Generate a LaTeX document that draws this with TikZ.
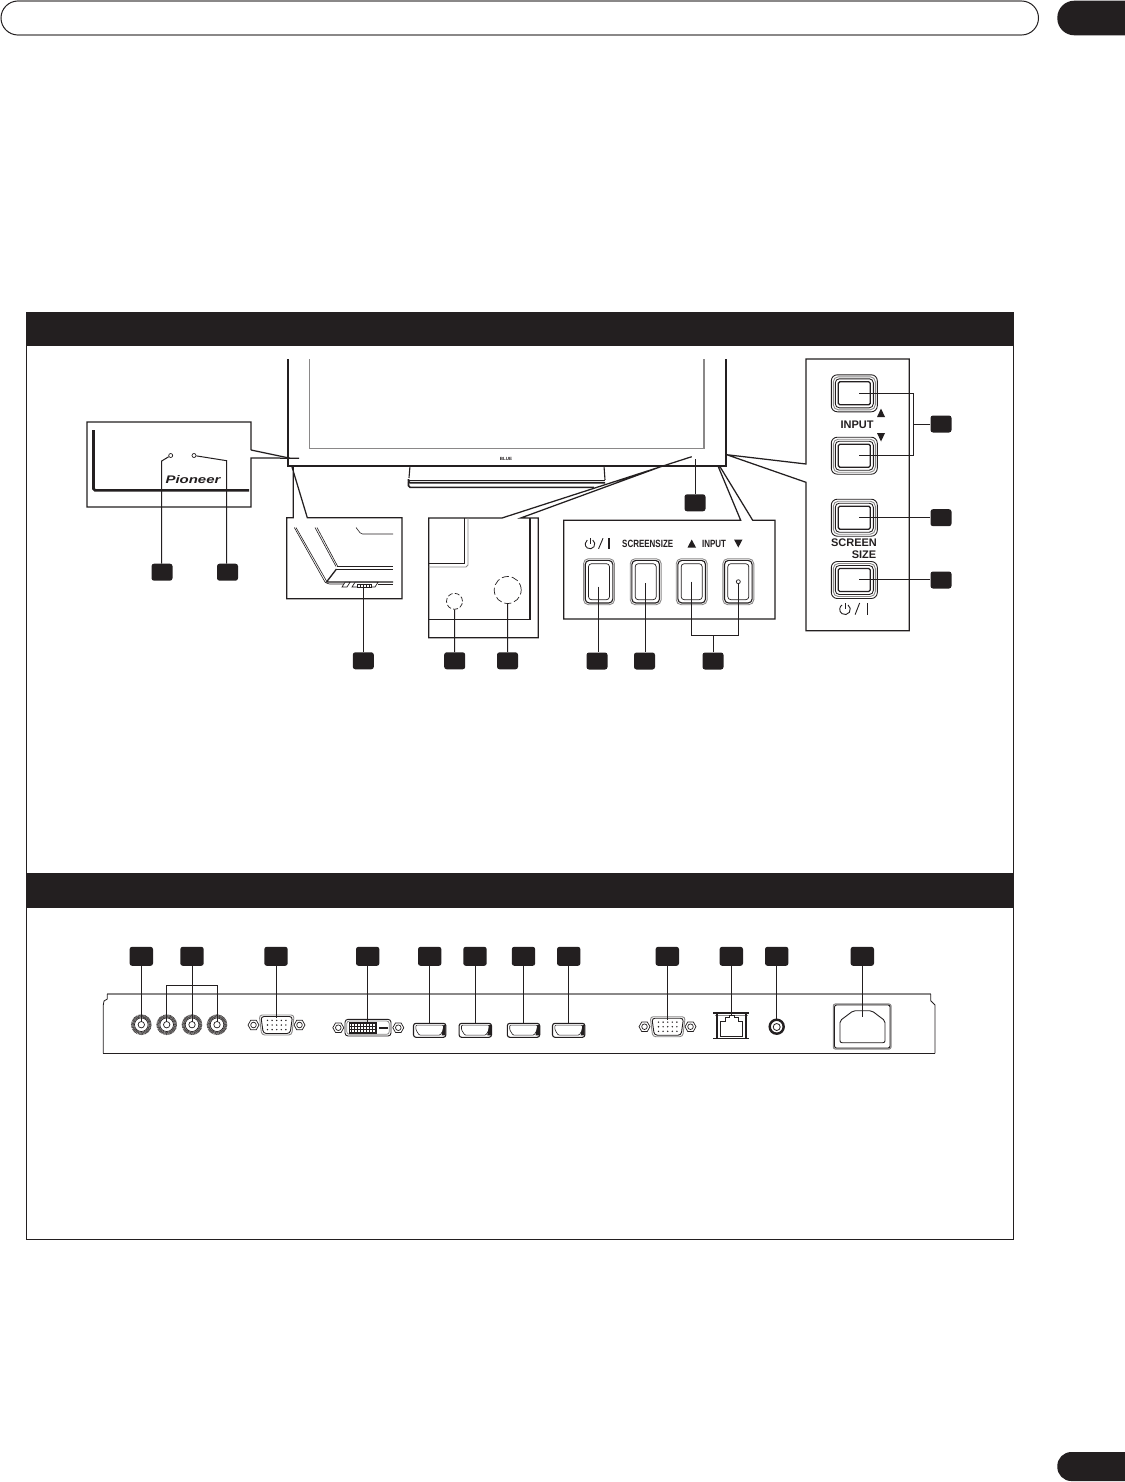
\documentclass[tikz,border=0pt]{standalone}
\usepackage{fontspec}
\setmainfont{Liberation Sans}
\definecolor{ink}{HTML}{231F20}
\definecolor{soft}{HTML}{8A8888}
\tikzset{x=1pt,y=-1pt,
 badge/.style={fill=ink,draw=none,rounded corners=2.5pt,minimum width=21pt,minimum height=17pt,inner sep=0pt},
 badgewide/.style={fill=ink,draw=none,rounded corners=2.5pt,minimum width=23.4pt,minimum height=19pt,inner sep=0pt},
 lead/.style={draw=ink,line width=1pt},
 thin/.style={draw=ink,line width=0.7pt},
 panel/.style={draw=ink,line width=1.25pt},
 heavy/.style={draw=ink,line width=2pt},
 lab/.style={inner sep=0pt,text=ink,font=\bfseries},
}
\newcommand{\powicon}[4]{% x y radius bar-offset
 \draw[ink,line width=.9pt] (#1+#3*0.574,#2-#3*0.819) arc[start angle=55,end angle=-235,radius=#3pt];
 \draw[ink,line width=.9pt] (#1,#2-#3-1) -- (#1,#2);
 \draw[ink,line width=.9pt] (#1+#4*.45,#2+#3) -- (#1+#4*.45+4.5,#2-#3-1);
 \draw[ink,line width=1.2pt] (#1+#4,#2-#3-1) -- (#1+#4,#2+#3);
}
\newcommand{\hbutton}[2]{% tall button in the bottom inset
 \draw[soft,line width=.9pt,rounded corners=5pt] (#1-15.5,#2-23) rectangle (#1+15.5,#2+23);
 \draw[ink,line width=1.1pt,rounded corners=4pt] (#1-13.8,#2-21.3) rectangle (#1+13.8,#2+21.3);
 \draw[ink,line width=.7pt,rounded corners=3pt] (#1-10.5,#2-18) rectangle (#1+10.5,#2+18);
}
\newcommand{\vbutton}[2]{% wide button in the side inset
 \draw[ink,line width=.9pt,rounded corners=6pt] (#1-23,#2-18.5) rectangle (#1+23,#2+18.5);
 \draw[soft,line width=.9pt,rounded corners=5pt] (#1-21,#2-16.5) rectangle (#1+21,#2+16.5);
 \draw[ink,line width=.9pt,rounded corners=4pt] (#1-19,#2-14.5) rectangle (#1+19,#2+14.5);
 \draw[ink,line width=1.3pt,rounded corners=1.5pt] (#1-16,#2-11.5) rectangle (#1+16,#2+11.5);
}
\newcommand{\hexnut}[2]{%
 \draw[ink,line width=.7pt] (#1+5.5,#2) -- (#1+2.75,#2+4.8) -- (#1-2.75,#2+4.8) -- (#1-5.5,#2) -- (#1-2.75,#2-4.8) -- (#1+2.75,#2-4.8) -- cycle;
 \draw[ink,line width=.7pt] (#1,#2) circle[radius=2.8];
}
\newcommand{\vga}[2]{%
 \hexnut{#1-23.2}{#2}\hexnut{#1+22.8}{#2}
 \draw[soft,line width=.9pt,rounded corners=3pt] (#1-17.5,#2-10) -- (#1+17.5,#2-10) -- (#1+15,#2+10) -- (#1-15,#2+10) -- cycle;
 \draw[ink,line width=.9pt,rounded corners=3pt] (#1-15.8,#2-8.5) -- (#1+15.8,#2-8.5) -- (#1+13.4,#2+8.5) -- (#1-13.4,#2+8.5) -- cycle;
 \foreach \i in {-2,-1,0,1,2}{
  \fill[ink] (#1+\i*4.6,#2-4.6) circle[radius=.8];
  \fill[ink] (#1+\i*4.6,#2) circle[radius=.8];
  \fill[ink] (#1+\i*4.6,#2+4.6) circle[radius=.8];
 }
}
\newcommand{\hdmi}[2]{%
 \draw[ink,line width=1.1pt,rounded corners=2.5pt] (#1-16.2,#2-7) -- (#1+16.2,#2-7) -- (#1+16.2,#2+7) -- (#1-16.2,#2+7) -- cycle;
 \draw[ink,line width=.6pt,rounded corners=1pt] (#1-13.8,#2-5.2) -- (#1+13.8,#2-5.2) -- (#1+13.8,#2-.5) -- (#1+10.5,#2+4.8) -- (#1-10.5,#2+4.8) -- (#1-13.8,#2-.5) -- cycle;
 \fill[ink] (#1+13.8,#2-5.5) -- (#1+16,#2-5.5) -- (#1+16,#2+5) -- (#1+12,#2+5) -- cycle;
}
\newcommand{\bnc}[2]{%
 \draw[ink!80,line width=3pt,dash pattern=on .9pt off .45pt] (#1,#2) circle[radius=8.8];
 \draw[ink,line width=.7pt] (#1,#2) circle[radius=6.8];
 \draw[ink,line width=.7pt] (#1,#2) circle[radius=3.2];
}
\begin{document}
\begin{tikzpicture}
\useasboundingbox (0,0) rectangle (1124,1482);
\fill[white] (0,0) rectangle (1124,1482);
% page furniture
\draw[ink,line width=1pt,rounded corners=17pt] (1,1) rectangle (1038.5,35);
\draw[soft,line width=1.3pt] (17,1) -- (1022,1) (17,35) -- (1022,35);
\fill[ink,rounded corners=17pt] (1057.3,.7) rectangle (1160,35.3);
\fill[ink,rounded corners=14pt] (1057.3,1452) rectangle (1160,1481);
% frame + header bars
\draw[ink,line width=1pt] (26.3,312) -- (26.3,1239) -- (1013.6,1239) -- (1013.6,312);
\fill[ink] (26,312) rectangle (1014,346);
\fill[ink] (26,873) rectangle (1014,907.5);

%---------- TV
\draw[ink,line width=2pt] (288,359) -- (288,465.7) -- (725.7,465.7) -- (725.7,359);
\draw[soft,line width=1.1pt] (309.3,359) -- (309.3,448.7) -- (704,448.7) -- (704,359);
\node[inner sep=0pt,font=\fontsize{4.5}{5}\selectfont\bfseries,text=ink] (logo) at (506,458.8) {BLUE};
% stand
\draw[ink,line width=1.1pt] (410,466) -- (409,478) (604,466) -- (605,480);
\draw[ink,line width=.8pt] (409,480) -- (605,480);
\draw[ink,line width=1.6pt,rounded corners=1.5pt] (408.5,479) -- (408.5,482.7) -- (605,482.7);
\draw[ink,line width=1.6pt,rounded corners=1.5pt] (408.5,482) -- (408.5,487.3) -- (594,487.3);

%---------- Inset: corner with logo
\draw[panel] (251,450) -- (251,422) -- (87,422) -- (87,507) -- (251,507) -- (251,458) -- (299,458.2);
\draw[panel] (251,450) -- (290,458.2);
\draw[heavy,line width=2.6pt,rounded corners=1.5pt] (93.5,430) -- (93.5,490.3) -- (249,490.3);
\node[inner sep=0pt,font=\bfseries\itshape\fontsize{11}{12}\selectfont,text=ink,xscale=1.36] (brand) at (193,479.5) {Pioneer};
\node[circle,draw=ink,line width=.7pt,fill=white,inner sep=0pt,minimum size=4pt] (ledA) at (170.7,455.5) {};
\node[circle,draw=ink,line width=.7pt,fill=white,inner sep=0pt,minimum size=4pt] (ledB) at (194,455.5) {};
\node[badge] (bA) at (162,572.2) {};
\node[badge] (bB) at (227.5,572.2) {};
\coordinate (ka) at (161.7,461);
\coordinate (kb) at (226.7,460.7);
\draw[lead] (ledA) -- (ka) -- (ka |- bA.north);
\draw[lead] (ledB) -- (kb) -- (kb |- bB.north);

%---------- Inset: stand switch
\draw[panel] (293.3,467) -- (293.3,517.7) -- (286.7,517.7) -- (286.7,598.7) -- (402,598.7) -- (402,517.7) -- (307.3,517.7) -- (292,467);
\draw[thin,line width=.6pt] (294.3,527.5) -- (325,582) (296,527.5) -- (326.5,581);
\draw[thin,line width=.6pt] (315,527.5) -- (336,566.5) (317,527.5) -- (337.5,566);
\draw[ink,line width=.6pt,rounded corners=1.5pt] (356,527.5) -- (361,534) -- (393,534);
\draw[ink,line width=.7pt] (337,566.5) -- (393,566.5);
\draw[ink,line width=1.4pt] (336,569.5) -- (393,569.5);
\draw[ink,line width=1.3pt] (336.5,569) -- (326.5,582) -- (393,582);
\draw[ink,line width=.6pt,rounded corners=1.5pt] (325,582) -- (328,584) -- (345,584);
\draw[ink,line width=.6pt] (378,584) -- (393,584);
\draw[ink,line width=.7pt,fill=white] (345,582.3) -- (350,582.3) -- (347,587) -- (342,587) -- cycle;
\draw[ink,line width=.7pt,fill=white] (355,582.3) -- (378,582.3) -- (375,587) -- (352,587) -- cycle;
\draw[ink,line width=.9pt,fill=white] (357,584) rectangle (371,587.5);
\foreach \sx in {360,363,366,369}{\draw[ink,line width=.4pt] (\sx,584) -- (\sx,587.5);}
\node[badge] (bC) at (363.3,660.8) {};
\coordinate (swt) at (363.3,586.7);
\draw[lead] (swt) -- (bC.north);

%---------- Inset: sensors
\draw[ink,line width=1.25pt] (691.7,456.7) -- (502,518) -- (428.7,518) -- (428.7,637.7) -- (538.3,637.7) -- (538.3,518) -- (520.7,518) -- (664,465.5);
\draw[ink,line width=1.4pt] (530,518) -- (530,619.7) -- (428.7,619.7);
\draw[soft,line width=.9pt] (468,518) -- (468,565) -- (466,567) -- (428.7,567);
\draw[ink,line width=1pt] (464,518) -- (464,563.3) -- (428.7,563.3);
\node[circle,draw=ink,line width=.7pt,dash pattern=on 5pt off 2.2pt,inner sep=0pt,minimum size=16pt] (sensA) at (454.5,601.3) {};
\node[circle,draw=ink,line width=.7pt,dash pattern=on 7pt off 3pt,inner sep=0pt,minimum size=27pt] (sensB) at (507.7,590) {};
\node[badge] (bD) at (454.7,660.8) {};
\node[badge] (bE) at (507.5,660.8) {};
\draw[lead] (sensA.south) -- (bD.north);
\draw[lead] (sensB.south) -- (bE.north);

%---------- Centre badge
\node[badge] (bF) at (695,502.8) {};
\coordinate (ledC) at (695,459);
\draw[lead] (ledC) -- (bF.north);

%---------- Inset: horizontal buttons
\draw[panel] (718.3,466.7) -- (740.7,520.3) -- (563.7,520.3) -- (563.7,619) -- (775,619) -- (775,520.3) -- (752.7,520.3) -- (720,466.7);
\hbutton{599}{581.7}\hbutton{645.7}{581.7}\hbutton{691.7}{581.7}\hbutton{738.3}{581.7}
\powicon{590}{544}{4.8}{19}
\node[lab,font=\bfseries\fontsize{10.5}{11}\selectfont,xscale=.76] (t1) at (647.7,544) {SCREENSIZE};
\node[lab,font=\bfseries\fontsize{10.5}{11}\selectfont,xscale=.76] (t2) at (714,544) {INPUT};
\fill[ink] (691.7,539.5) -- (696,547.5) -- (687.5,547.5) -- cycle;
\fill[ink] (738.3,547.5) -- (742.5,539.5) -- (734,539.5) -- cycle;
\node[circle,draw=ink,line width=.7pt,inner sep=0pt,minimum size=4pt] (dot) at (738.3,581.7) {};
\node[badge] (bG) at (597,661) {};
\node[badge] (bH) at (644.5,661) {};
\node[badge] (bI) at (713,661) {};
\coordinate (k1) at (598.3,586.7);
\coordinate (k2) at (645.7,583);
\coordinate (k3) at (691,581.7);
\coordinate (k4) at (738.3,635.3);
\coordinate (k5) at (691,635.3);
\draw[lead] (k1) -- (k1 |- bG.north);
\draw[lead] (k2) -- (k2 |- bH.north);
\draw[lead] (k3) -- (k5) -- (k4) -- (dot.south);
\draw[lead] (bI.north) -- (bI.north |- k5);

%---------- Inset: vertical buttons
\draw[panel] (726.7,454.7) -- (806,464) -- (806,359) -- (909.3,359) -- (909.3,630.7) -- (806,630.7) -- (806,482.3) -- (726.7,454.7);
\vbutton{854.3}{393.3}\vbutton{854.3}{455.7}\vbutton{854.3}{517.7}\vbutton{854.3}{580}
\node[lab,font=\bfseries\fontsize{11}{12}\selectfont] (t3) at (857,425) {INPUT};
\fill[ink] (881,408.5) -- (885,417) -- (877,417) -- cycle;
\fill[ink] (881,441.5) -- (885,433) -- (877,433) -- cycle;
\node[lab,font=\bfseries\fontsize{11}{12}\selectfont] (t4) at (854,542.5) {SCREEN};
\node[lab,font=\bfseries\fontsize{11}{12}\selectfont] (t5) at (864,555) {SIZE};
\powicon{845}{609.3}{5.3}{22.5}
\node[badge] (bJ) at (941,424) {};
\node[badge] (bK) at (941,517.7) {};
\node[badge] (bL) at (941,580) {};
\coordinate (v1) at (859.3,393.3);
\coordinate (v2) at (859.3,455.7);
\coordinate (v3) at (913.3,393.3);
\coordinate (v4) at (913.3,455.7);
\coordinate (v5) at (859.3,517.7);
\coordinate (v6) at (859.3,579.3);
\draw[lead] (v1) -- (v3) -- (v4) -- (v2);
\draw[lead] (bJ.west) -- (bJ.west -| v3);
\draw[lead] (v5) -- (bK.west);
\draw[lead] (v6) -- (v6 -| bL.west);

%---------- Rear panel
\draw[soft,line width=1.1pt] (107.3,994) -- (930.7,994);
\draw[ink,line width=.8pt] (930.7,994) -- (930.7,1000.7) -- (935,1005) -- (935,1053.3);
\draw[ink,line width=.8pt] (107.3,994) -- (107.3,999) -- (104,1001) -- (103.3,1005) -- (103.3,1053.3);
\draw[ink,line width=1pt] (103.3,1053.3) -- (935,1053.3);
\foreach \bx in {141.3,166.7,192,217}{\bnc{\bx}{1024.7}}
\vga{276.7}{1025}
% DVI
\hexnut{338.3}{1027.7}\hexnut{398.3}{1027.7}
\draw[ink,line width=.9pt,rounded corners=3pt] (345,1019.3) rectangle (391,1036);
\draw[soft,line width=.8pt,rounded corners=2.5pt] (346.8,1021) rectangle (389.2,1034.3);
\draw[ink,line width=.8pt,step=3pt] (349.3,1022.7) grid (376.7,1033.5);
\draw[ink,line width=.8pt] (349.3,1022.7) rectangle (376.7,1033.5);
\fill[ink] (378.7,1027.2) rectangle (387.7,1029);
\foreach \hx in {429.7,475.3,523.5,568.7}{\hdmi{\hx}{1030.3}}
\vga{667.7}{1026.7}
% LAN
\draw[ink,line width=1.5pt] (713.3,1013) -- (749.3,1013) (713.3,1038.3) -- (749.3,1038.3);
\draw[soft,line width=1pt] (715,1015) -- (748,1015);
\draw[ink,line width=1.1pt] (717,1013) -- (717,1038) (746,1013) -- (746,1038);
\draw[ink,line width=.8pt] (720,1036) -- (720,1021) -- (725,1021) -- (725,1017.5) -- (729,1017.5) -- (729,1015.5) -- (734,1015.5) -- (734,1017.5) -- (738,1017.5) -- (738,1021) -- (742.6,1021) -- (742.6,1036) -- cycle;
% audio
\node[circle,draw=ink,line width=2.4pt,inner sep=0pt,minimum size=14pt] (jack) at (776.7,1026.7) {};
\node[circle,draw=ink,line width=.8pt,inner sep=0pt,minimum size=7pt] (jackin) at (776.7,1027) {};
% mains
\draw[soft,line width=1.1pt,rounded corners=2pt] (833.3,1004) rectangle (891,1049);
\draw[ink,line width=.9pt,rounded corners=2pt] (834.5,1005) rectangle (890,1048);
\draw[ink,line width=.9pt,rounded corners=2pt] (840,1020.7) -- (853.3,1010.7) -- (871.7,1010.7) -- (885,1020.7) -- (885,1042.7) -- (840,1042.7) -- cycle;
% rear badges
\node[badgewide] (r1) at (141.3,956.3) {};
\node[badgewide] (r2) at (192,956.3) {};
\node[badgewide] (r3) at (276,956.3) {};
\node[badgewide] (r4) at (367.7,956.3) {};
\node[badgewide] (r5) at (429.7,956.3) {};
\node[badgewide] (r6) at (475,956.3) {};
\node[badgewide] (r7) at (523.5,956.3) {};
\node[badgewide] (r8) at (568.7,956.3) {};
\node[badgewide] (r9) at (667.3,956.3) {};
\node[badgewide] (r10) at (731.3,956.3) {};
\node[badgewide] (r11) at (776.7,956.3) {};
\node[badgewide] (r12) at (862.3,956.3) {};
\coordinate (c1) at (141.3,1021.5);
\coordinate (c2) at (192,1021.5);
\coordinate (c2a) at (166.7,1021.5);
\coordinate (c2b) at (217,1021.5);
\coordinate (c2m) at (192,985.3);
\draw[lead] (r1.south) -- (c1);
\draw[lead] (r2.south) -- (c2);
\draw[lead] (c2a) -- (c2a |- c2m) -- (c2b |- c2m) -- (c2b);
\draw[lead] (r3.south) -- (276,1018);
\draw[lead] (r4.south) -- (367.7,1023);
\draw[lead] (r5.south) -- (429.7,1023.3);
\draw[lead] (r6.south) -- (475,1023.3);
\draw[lead] (r7.south) -- (523.5,1023.3);
\draw[lead] (r8.south) -- (568.7,1023.3);
\draw[lead] (r9.south) -- (667.3,1019.5);
\draw[lead] (r10.south) -- (731.3,1015.5);
\draw[lead] (r11.south) -- (jack.north);
\draw[lead] (r12.south) -- (862.3,1016.7);
\end{tikzpicture}
\end{document}
